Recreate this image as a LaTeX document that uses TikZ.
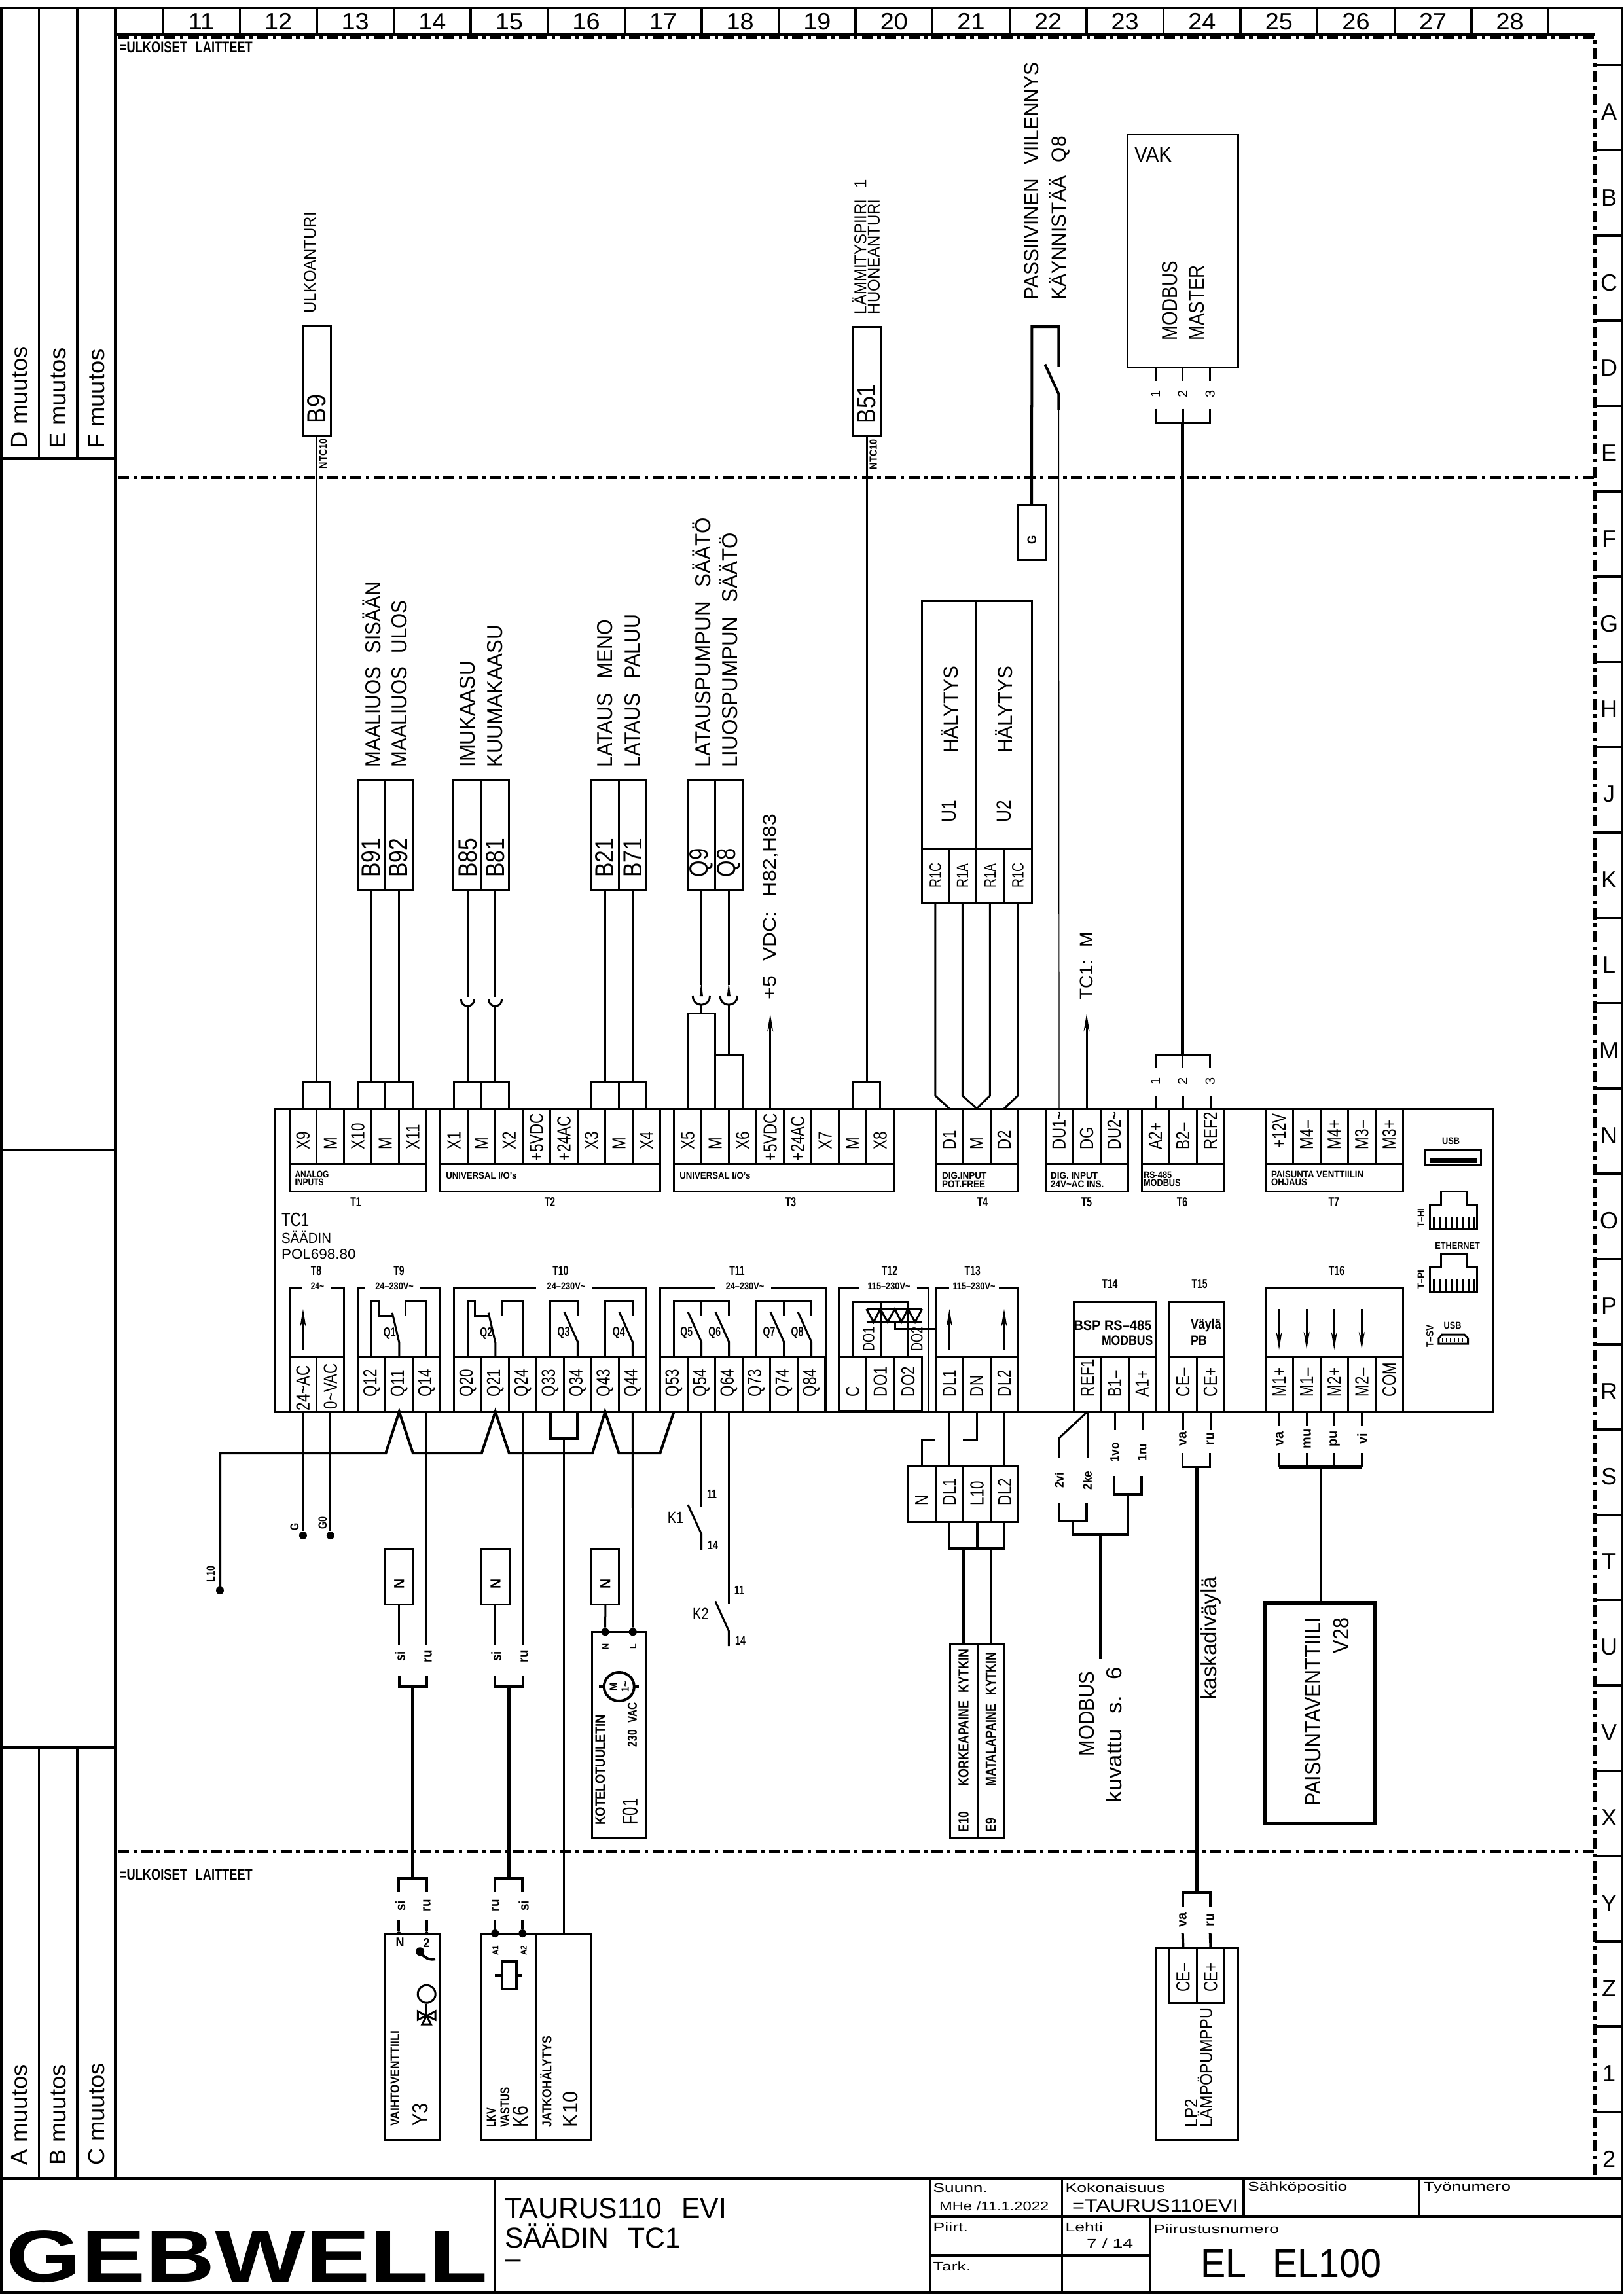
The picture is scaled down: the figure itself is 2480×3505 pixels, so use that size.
\documentclass[tikz,border=0pt]{standalone}
\usepackage{fontspec}
\usepackage{graphicx}
\setmainfont{Liberation Sans}
\usetikzlibrary{arrows.meta}
\newcounter{txc}
\newcommand\W{\hspace{.7em}}
\tikzset{
 lab/.style={inner sep=0,outer sep=0,text=black},
 ln/.style={line width=0.03cm},
 lnb/.style={line width=0.04cm},
 lnt/.style={line width=0.052cm},
 hair/.style={line width=0.012cm},
 frm/.style={line width=0.035cm},
 cell/.style={draw,line width=0.03cm,inner sep=0,outer sep=0,rectangle},
 cellb/.style={cell,line width=0.052cm},
 dotn/.style={circle,fill=black,inner sep=0,minimum size=0.12cm},
 dotm/.style={circle,fill=black,inner sep=0,minimum size=0.06cm},
 ddash/.style={line width=0.045cm,dash pattern=on 0.17cm off 0.065cm on 0.055cm off 0.065cm},
 arr/.style={ln,-{Stealth[length=0.27cm,width=0.09cm]}},
}
% rotated text: start at (x,y), reading upwards
\newcommand\tV[5]{\stepcounter{txc}\pgfmathsetmacro\fs{#3*0.2845}\node[lab,anchor=west,rotate=90,name=tx\arabic{txc}] at (#1,#2) {\fontsize{\fs pt}{\fs pt}\selectfont\scalebox{#4}[1]{#5}};}
% horizontal text: start at (x,y)
\newcommand\tH[5]{\stepcounter{txc}\pgfmathsetmacro\fs{#3*0.2845}\node[lab,anchor=west,name=tx\arabic{txc}] at (#1,#2) {\fontsize{\fs pt}{\fs pt}\selectfont\scalebox{#4}[1]{#5}};}
% centred horizontal
\newcommand\tC[5]{\stepcounter{txc}\pgfmathsetmacro\fs{#3*0.2845}\node[lab,anchor=center,name=tx\arabic{txc}] at (#1,#2) {\fontsize{\fs pt}{\fs pt}\selectfont\scalebox{#4}[1]{#5}};}
% centred rotated
\newcommand\tR[5]{\stepcounter{txc}\pgfmathsetmacro\fs{#3*0.2845}\node[lab,anchor=center,rotate=90,name=tx\arabic{txc}] at (#1,#2) {\fontsize{\fs pt}{\fs pt}\selectfont\scalebox{#4}[1]{#5}};}
\newcommand\rbox[6][]{\pgfmathsetmacro\cx{(#3+#5)/2}\pgfmathsetmacro\cy{(#4+#6)/2}\pgfmathsetmacro\ww{#5-#3}\pgfmathsetmacro\hh{#6-#4}\node[cell,#1,minimum width=\ww*0.01cm,minimum height=\hh*0.01cm] (#2) at (\cx,\cy) {};}
% name, x0, pitch, ytop, ybot, text start y, labels
\newcommand\strip[7]{\foreach \lab/\dy [count=\i] in {#7}{%
  \pgfmathsetmacro\cxx{#2+(\i-0.5)*#3}\pgfmathsetmacro\cyy{(#4+#5)/2}\pgfmathsetmacro\wwx{#3}\pgfmathsetmacro\hhx{#5-#4}\pgfmathsetmacro\syy{#6+\dy}%
  \node[cell,minimum width=\wwx*0.01cm,minimum height=\hhx*0.01cm] (#1-\i) at (\cxx,\cyy) {};%
  \tV{\cxx}{\syy}{29}{.77}{\lab}}}
\newcommand\cupsym[3]{\pgfmathsetmacro\xa{#1-#3}\pgfmathsetmacro\xb{#1+#3}\pgfmathsetmacro\yb{#2+1.35*#3}\draw[ln] (\xa,#2) .. controls (\xa,\yb) and (\xb,\yb) .. (\xb,#2);}
\newcommand\wdg[2]{\pgfmathsetmacro\xa{#1-2.6}\pgfmathsetmacro\xb{#1+2.6}\pgfmathsetmacro\ya{#2-22}\fill (\xa,#2)--(#1,\ya)--(\xb,#2)--cycle;}
% rj45: y top
\newcommand\rj[1]{\pgfmathsetmacro\ya{#1+21}\pgfmathsetmacro\yb{#1+58}\pgfmathsetmacro\yc{#1+39}\draw[ln] (2184.4,\yb) -- (2184.4,\ya) -- (2201,\ya) -- (2201,#1) -- (2241.3,#1) -- (2241.3,\ya) -- (2256.7,\ya) -- (2256.7,\yb) -- cycle;\foreach \tx in {2190,2199,2208,2217,2226,2235,2244,2252}{\draw[ln] (\tx,\yc) -- (\tx,\yb);}}
\begin{document}
\begin{tikzpicture}[x=0.01cm,y=-0.01cm]
\useasboundingbox (0,0) rectangle (2480,3505);
\fill[white] (0,0) rectangle (2480,3505);
%% ---------- frame
\draw[frm] (2,12) rectangle (2478,3503);
\draw[lnb] (176,12) -- (176,3328);
\draw[frm] (59.3,12) -- (59.3,701);
\draw[frm] (117.9,12) -- (117.9,701);
\draw[frm] (59.3,2670) -- (59.3,3328);
\draw[frm] (117.9,2670) -- (117.9,3328);
\draw[frm] (2,701) -- (176,701);
\draw[frm] (2,1757) -- (176,1757);
\draw[frm] (2,2670) -- (176,2670);
\draw[line width=0.05cm] (2,3328) -- (2478,3328);
\draw[frm] (176,53) -- (2436,53);
\foreach \k in {0,...,18}{\pgfmathsetmacro\xx{248.7+\k*117.6}\draw[frm] (\xx,12) -- (\xx,53);}
\foreach \n [count=\k from 0] in {11,12,13,14,15,16,17,18,19,20,21,22,23,24,25,26,27,28}{\pgfmathsetmacro\xx{248.7+(\k+.5)*117.6}\tC{\xx}{33}{36}{1.05}{\n}}
\foreach \n [count=\k from 0] in {A,B,C,D,E,F,G,H,J,K,L,M,N,O,P,R,S,T,U,V,X,Y,Z,1,2}{\pgfmathsetmacro\yy{99.3+\k*130.3}\pgfmathsetmacro\yt{\yy+72}\draw[frm] (2436,\yy) -- (2478,\yy);\tC{2458}{\yt}{36}{1}{\n}}
\draw[ddash] (180,56.7) -- (2436.7,56.7) -- (2436.7,3328);
\draw[ddash] (180,729.7) -- (2436.7,729.7);
\draw[ddash] (180,2829) -- (2436.7,2829);
\tH{183}{72}{24}{.76}{\bfseries =ULKOISET\W LAITTEET}
\tH{183}{2864}{24}{.76}{\bfseries =ULKOISET\W LAITTEET}
\tV{30}{685}{35}{1.04}{D muutos}
\tV{88.8}{685}{35}{1.04}{E muutos}
\tV{147.3}{685}{35}{1.04}{F muutos}
\tV{30}{3308}{35}{1.04}{A muutos}
\tV{88.8}{3308}{35}{1.04}{B muutos}
\tV{147.3}{3308}{35}{1.04}{C muutos}
%% ---------- title block
\draw[frm] (756,3328) -- (756,3503);
\draw[frm] (1420.6,3328) -- (1420.6,3503);
\draw[frm] (1622.4,3328) -- (1622.4,3503);
\draw[frm] (1757,3387) -- (1757,3503);
\draw[frm] (1900,3328) -- (1900,3387);
\draw[frm] (2168.7,3328) -- (2168.7,3387);
\draw[frm] (1420.6,3387) -- (2478,3387);
\draw[frm] (1420.6,3446) -- (1757,3446);
\tH{10}{3448}{113}{1.3}{\bfseries GEBWELL}
\tH{771}{3374}{44}{.97}{TAURUS110\W EVI}
\tH{771}{3416}{44}{.97}{SÄÄDIN\W TC1}
\tH{771}{3459}{44}{1}{–}
\tH{1425.7}{3343}{19}{1.38}{Suunn.}
\tH{1435}{3371}{19}{1.25}{MHe /11.1.2022}
\tH{1627.5}{3343}{19}{1.4}{Kokonaisuus}
\tH{1638}{3370}{27}{1.2}{=TAURUS110EVI}
\tH{1906}{3343}{19}{1.4}{Sähköpositio}
\tH{2175}{3343}{19}{1.4}{Työnumero}
\tH{1425.7}{3403}{19}{1.4}{Piirt.}
\tH{1627.5}{3403}{19}{1.4}{Lehti}
\tH{1660}{3428}{19}{1.5}{7 / 14}
\tH{1762}{3406}{19}{1.4}{Piirustusnumero}
\tH{1834}{3458}{61}{.94}{EL\W EL100}
\tH{1425.7}{3463}{19}{1.4}{Tark.}
%% ---------- TC1 controller
\rbox{tc}{420.7}{1694}{2280}{2157}
\strip{t1}{442}{41.9}{1694}{1778.5}{1756}{X9/0,M/0,X10/0,M/0,X11/0}
\strip{t2}{672.7}{41.98}{1694}{1778.5}{1756}{X1/0,M/0,X2/0,+5VDC/18,+24AC/18,X3/0,M/0,X4/0}
\strip{t3}{1029.7}{42}{1694}{1778.5}{1756}{X5/0,M/0,X6/0,+5VDC/18,+24AC/18,X7/0,M/0,X8/0}
\strip{t4}{1429.5}{41.8}{1694}{1778.5}{1756}{D1/0,M/0,D2/0}
\strip{t5}{1597}{42}{1694}{1778.5}{1756}{DU1\textasciitilde/0,DG/0,DU2\textasciitilde/0}
\strip{t6}{1744}{42}{1694}{1778.5}{1756}{A2+/0,B2–/0,REF2/0}
\strip{t7}{1933}{42.1}{1694}{1778.5}{1754}{+12V/0,M4–/2,M4+/2,M3–/2,M3+/2}
\rbox{l1}{442}{1778.5}{651.4}{1820.4}
\rbox{l2}{672.7}{1778.5}{1008.5}{1820.4}
\rbox{l3}{1029.7}{1778.5}{1365.9}{1820.4}
\rbox{l4}{1429.5}{1778.5}{1554.8}{1820.4}
\rbox{l5}{1597}{1778.5}{1723}{1820.4}
\rbox{l6}{1744}{1778.5}{1870}{1820.4}
\rbox{l7}{1933}{1778.5}{2143.5}{1820.4}
\tH{450.5}{1794.3}{15}{.8}{\bfseries ANALOG}
\tH{450.5}{1806.7}{15}{.8}{\bfseries INPUTS}
\tH{681.3}{1796}{15}{.88}{\bfseries UNIVERSAL I/O's}
\tH{1038.4}{1796}{15}{.88}{\bfseries UNIVERSAL I/O's}
\tH{1439}{1796}{15}{.9}{\bfseries DIG.INPUT}
\tH{1439}{1809}{15}{.9}{\bfseries POT.FREE}
\tH{1605}{1796}{15}{.9}{\bfseries DIG. INPUT}
\tH{1605}{1809.6}{15}{.9}{\bfseries 24V\textasciitilde AC INS.}
\tH{1747}{1795}{15}{.85}{\bfseries RS-485}
\tH{1747}{1807.5}{15}{.85}{\bfseries MODBUS}
\tH{1942}{1794}{15}{.88}{\bfseries PAISUNTA VENTTIILIN}
\tH{1942}{1806.7}{15}{.88}{\bfseries OHJAUS}
\tC{543.5}{1836.6}{20}{.7}{\bfseries T1}
\tC{840}{1836.6}{20}{.7}{\bfseries T2}
\tC{1208}{1836.6}{20}{.7}{\bfseries T3}
\tC{1501}{1836.6}{20}{.7}{\bfseries T4}
\tC{1660}{1836.6}{20}{.7}{\bfseries T5}
\tC{1806}{1836.6}{20}{.7}{\bfseries T6}
\tC{2037.7}{1836.6}{20}{.7}{\bfseries T7}
\tH{430}{1863.5}{29}{.77}{TC1}
\tH{430}{1890.5}{22}{.93}{SÄÄDIN}
\tH{430}{1916}{21}{1.07}{POL698.80}
\tC{483}{1941.5}{20}{.7}{\bfseries T8}
\tC{609.5}{1941.5}{20}{.7}{\bfseries T9}
\tC{856.4}{1941.5}{20}{.7}{\bfseries T10}
\tC{1126}{1941.5}{20}{.7}{\bfseries T11}
\tC{1359}{1941.5}{20}{.7}{\bfseries T12}
\tC{1485.8}{1941.5}{20}{.7}{\bfseries T13}
\tC{1695.4}{1961.8}{20}{.7}{\bfseries T14}
\tC{1832.7}{1961.8}{20}{.7}{\bfseries T15}
\tC{2042}{1941.5}{20}{.7}{\bfseries T16}
\tC{485}{1965}{15}{.8}{\bfseries 24\textasciitilde}
\tC{602.6}{1965}{15}{.85}{\bfseries 24–230V\textasciitilde}
\tC{865}{1965}{15}{.85}{\bfseries 24–230V\textasciitilde}
\tC{1138}{1965}{15}{.85}{\bfseries 24–230V\textasciitilde}
\tC{1358}{1965}{15}{.85}{\bfseries 115–230V\textasciitilde}
\tC{1488}{1965}{15}{.85}{\bfseries 115–230V\textasciitilde}
%% bottom strips
\strip{t8}{442}{41.9}{2073}{2157}{2134}{24\textasciitilde AC/21,0\textasciitilde VAC/19}
\strip{t9}{547}{41.9}{2073}{2157}{2134}{Q12/0,Q11/0,Q14/0}
\strip{t10}{693.9}{41.9}{2073}{2157}{2134}{Q20/0,Q21/0,Q24/0,Q33/0,Q34/0,Q43/0,Q44/0}
\strip{t11}{1008.5}{42}{2073}{2157}{2134}{Q53/0,Q54/0,Q64/0,Q73/0,Q74/0,Q84/0}
\strip{t12}{1281.5}{42.2}{2073}{2157}{2134}{C/0,DO1/0,DO2/0}
\strip{t13}{1429.5}{41.8}{2073}{2157}{2134}{DL1/0,DN/0,DL2/0}
\strip{t14}{1640}{42}{2073}{2157}{2134}{REF1/0,B1–/0,A1+/0}
\strip{t15}{1786}{42}{2073}{2157}{2134}{CE–/0,CE+/0}
\strip{t16}{1933}{42.1}{2073}{2157}{2134}{M1+/0,M1–/0,M2+/0,M2–/0,COM/0}
%% block outlines with voltage gaps
\draw[ln] (442,2073) -- (442,1968) -- (462,1968) (506,1968) -- (525.7,1968) -- (525.7,2073);
\draw[ln] (547,2073) -- (547,1968) -- (556.7,1968) (641,1968) -- (672.7,1968) -- (672.7,2157);
\draw[ln] (693.9,2073) -- (693.9,1968) -- (819,1968) (904,1968) -- (987.2,1968) -- (987.2,2157);
\draw[ln] (1008.5,2073) -- (1008.5,1968) -- (1093,1968) (1178,1968) -- (1261,1968) -- (1261,2157);
\draw[ln] (1281.5,2073) -- (1281.5,1968) -- (1311.6,1968) (1400.7,1968) -- (1418.8,1968) -- (1418.8,2157);
\draw[ln] (1429.5,2073) -- (1429.5,1968) -- (1449.6,1968) (1526,1968) -- (1554.8,1968) -- (1554.8,2157);
\draw[ln] (1640,2073) -- (1640,1989) -- (1766,1989) -- (1766,2157);
\draw[ln] (1786,2073) -- (1786,1989) -- (1870,1989) -- (1870,2073);
\draw[ln] (1933,2073) -- (1933,1968) -- (2143.5,1968) -- (2143.5,2073);
\draw[lnb] (1281.5,2157) -- (1408.7,2157);
%% T8 & T13 & T16 arrows
\draw[arr] (t8-1.north) ++(0,-11) -- ++(0,-62);
\draw[arr] (t13-1.north) ++(0,-11) -- ++(0,-62);
\draw[arr] (t13-3.north) ++(0,-11) -- ++(0,-62);
\foreach \n in {1,2,3,4}{\draw[arr] (t16-\n.north) ++(0,-73) -- ++(0,62);}
%% T9 contact
\draw[ln] (t9-1.north) -- (t9-1.north |- 0,1988.7) -- (578,1988.7) -- (578,2010) -- (601,2010);
\draw[ln] (599.2,2005.7) -- (t9-2.north |- 0,2051.3) -- (t9-2.north);
\draw[ln] (t9-3.north) -- (t9-3.north |- 0,1988.7) -- (619.9,1988.7) -- (619.9,2010);
\tC{595.2}{2037}{20}{.7}{\bfseries Q1}
%% T10 contacts
\draw[ln] (t10-1.north) -- (t10-1.north |- 0,1988.7) -- (725,1988.7) -- (725,2010) -- (748,2010);
\draw[ln] (746.2,2005.7) -- (t10-2.north |- 0,2051.3) -- (t10-2.north);
\draw[ln] (t10-3.north) -- (t10-3.north |- 0,1988.7) -- (766.9,1988.7) -- (766.9,2010);
\tC{742.7}{2037}{20}{.7}{\bfseries Q2}
\draw[ln] (t10-4.north) -- (t10-4.north |- 0,1988.7) -- (t10-5.north |- 0,1988.7) -- (t10-5.north |- 0,2010);
\draw[ln] (862,2004.5) -- (t10-5.north |- 0,2050) -- (t10-5.north);
\tC{861}{2036.5}{20}{.7}{\bfseries Q3}
\draw[ln] (t10-6.north) -- (t10-6.north |- 0,1988.7) -- (t10-7.north |- 0,1988.7) -- (t10-7.north |- 0,2010);
\draw[ln] (946,2004.5) -- (t10-7.north |- 0,2050) -- (t10-7.north);
\tC{945.3}{2036.5}{20}{.7}{\bfseries Q4}
%% T11 contacts
\draw[ln] (t11-1.north) -- (t11-1.north |- 0,1988.7) -- (t11-3.north |- 0,1988.7) -- (t11-3.north |- 0,2010);
\draw[ln] (t11-2.north |- 0,1988.7) -- (t11-2.north |- 0,2010);
\draw[ln] (1051,2004.5) -- (t11-2.north |- 0,2050) -- (t11-2.north);
\draw[ln] (1093,2004.5) -- (t11-3.north |- 0,2050) -- (t11-3.north);
\tC{1048.7}{2036.5}{20}{.7}{\bfseries Q5}
\tC{1091.7}{2036.5}{20}{.7}{\bfseries Q6}
\draw[ln] (t11-4.north) -- (t11-4.north |- 0,1988.7) -- (t11-6.north |- 0,1988.7) -- (t11-6.north |- 0,2010);
\draw[ln] (t11-5.north |- 0,1988.7) -- (t11-5.north |- 0,2010);
\draw[ln] (1177,2004.5) -- (t11-5.north |- 0,2050) -- (t11-5.north);
\draw[ln] (1219,2004.5) -- (t11-6.north |- 0,2050) -- (t11-6.north);
\tC{1175}{2036.5}{20}{.7}{\bfseries Q7}
\tC{1218}{2036.5}{20}{.7}{\bfseries Q8}
%% T12 triacs
\rbox{t12in}{1302}{1989}{1387}{2073}
\draw[ln] (1345,1989) -- (1345,2073);
\draw[ln] (1323.7,2000) -- (1408.7,2000);
\draw[ln] (1323.7,2020) -- (1408.7,2020);
\draw[ln] (1323.7,2000) -- (1334.5,2020) -- (1345,2000) -- (1356,2020) -- (1367,2000) -- (1377,2020) -- (1387,2000) -- (1398,2020) -- (1408.7,2000);
\draw[ln] (1367,2020) -- (1367,2030) -- (1429.5,2030);
\tV{1327}{2064.6}{25}{.72}{DO1}
\tV{1400.7}{2064.6}{25}{.72}{DO2}
%% T14 T15 text
\tH{1640.5}{2025}{21}{.95}{\bfseries BSP RS–485}
\tH{1683}{2048}{21}{.84}{\bfseries MODBUS}
\tH{1819}{2025}{21}{.85}{\bfseries Väylä}
\tH{1819}{2048}{21}{.85}{\bfseries PB}
%% connectors right
\tC{2216.5}{1743.3}{15}{.85}{\bfseries USB}
\draw[ln] (2177.6,1757.8) rectangle (2262.7,1779.8);
\fill (2184,1770) rectangle (2256,1776.5);
\rj{1820.8}
\rj{1915.3}
\tR{2171}{1861}{15}{.9}{\bfseries T–HI}
\tR{2171}{1955}{15}{.9}{\bfseries T–PI}
\tC{2226.6}{1903.7}{15}{.85}{\bfseries ETHERNET}
\tR{2184.4}{2041.8}{15}{.9}{\bfseries T–SV}
\tC{2219}{2025}{15}{.85}{\bfseries USB}
\draw[ln] (2197.8,2053) -- (2197.8,2045) -- (2203,2039) -- (2237,2039) -- (2242.6,2045) -- (2242.6,2053) -- cycle;
\foreach \tx in {2204,2210,2216,2222,2228,2234}{\draw[line width=0.02cm] (\tx,2044) -- (\tx,2050);}
%% ---------- upper field
\coordinate (busA) at (0,1652);
% B9
\rbox{B9}{462}{498.6}{505}{666}
\tV{483.3}{647}{40}{.9}{B9}
\tV{473.4}{478.5}{26}{.92}{ULKOANTURI}
\tV{493.7}{716}{16}{.9}{\bfseries NTC10}
\draw[ln] (t1-1.north) -- (t1-1.north |- busA) -- (t1-2.north |- busA) -- (t1-2.north);
\draw[ln] (B9.south) -- (B9.south |- busA);
% B51
\rbox{B51}{1302.7}{499.3}{1345.5}{666.7}
\tV{1323.7}{647.6}{40}{.85}{B51}
\tV{1312.5}{480}{26}{.92}{LÄMMITYSPIIRI\W 1}
\tV{1334.8}{480}{26}{.92}{HUONEANTURI}
\tV{1334}{717}{16}{.9}{\bfseries NTC10}
\draw[ln] (t3-7.north) -- (t3-7.north |- busA) -- (t3-8.north |- busA) -- (t3-8.north);
\draw[ln] (B51.south) -- (B51.south |- busA);
% B91 B92
\rbox{B91}{546}{1191.5}{588.3}{1359.5}
\rbox{B92}{588.3}{1191.5}{630.6}{1359.5}
\tV{566.8}{1340.5}{40}{.84}{B91}
\tV{609.2}{1340.5}{40}{.84}{B92}
\tV{567.9}{1172.5}{33}{.9}{MAALIUOS\W SISÄÄN}
\tV{609.7}{1172.5}{33}{.9}{MAALIUOS\W ULOS}
\draw[ln] (t1-3.north) -- (t1-3.north |- busA) -- (t1-5.north |- busA) -- (t1-5.north);
\draw[ln] (t1-4.north) -- (t1-4.north |- busA);
\draw[ln] (B91.south) -- (B91.south |- busA);
\draw[ln] (B92.south) -- (B92.south |- busA);
% B85 B81
\rbox{B85}{692.9}{1191.5}{735.7}{1359.5}
\rbox{B81}{735.7}{1191.5}{777.6}{1359.5}
\tV{714.3}{1340.5}{40}{.84}{B85}
\tV{756.6}{1340.5}{40}{.84}{B81}
\tV{714.3}{1172.5}{33}{.94}{IMUKAASU}
\tV{756.6}{1172.5}{33}{.94}{KUUMAKAASU}
\draw[ln] (t2-1.north) -- (t2-1.north |- busA) -- (t2-3.north |- busA) -- (t2-3.north);
\draw[ln] (t2-2.north) -- (t2-2.north |- busA);
\draw[ln] (B85.south) -- (B85.south |- 0,1523);
\draw[ln] (B81.south) -- (B81.south |- 0,1523);
\cupsym{714.3}{1527}{10}
\cupsym{756.6}{1527}{10}
\draw[ln] (714.3,1537) -- (714.3 ,1652);
\draw[ln] (756.6,1537) -- (756.6,1652);
% B21 B71
\rbox{B21}{903}{1191.5}{945.4}{1359.5}
\rbox{B71}{945.4}{1191.5}{987.8}{1359.5}
\tV{924}{1340.5}{40}{.84}{B21}
\tV{966.3}{1340.5}{40}{.84}{B71}
\tV{924.5}{1172.5}{33}{.92}{LATAUS\W MENO}
\tV{966.3}{1172.5}{33}{.92}{LATAUS\W PALUU}
\draw[ln] (t2-6.north) -- (t2-6.north |- busA) -- (t2-8.north |- busA) -- (t2-8.north);
\draw[ln] (t2-7.north) -- (t2-7.north |- busA);
\draw[ln] (B21.south) -- (B21.south |- busA);
\draw[ln] (B71.south) -- (B71.south |- busA);
% Q9 Q8
\rbox{Q9b}{1050.5}{1191.5}{1092.3}{1359.5}
\rbox{Q8b}{1092.3}{1191.5}{1134.7}{1359.5}
\tV{1071.4}{1340.5}{40}{.82}{Q9}
\tV{1113.3}{1340.5}{40}{.82}{Q8}
\tV{1071.4}{1172.5}{33}{.95}{LATAUSPUMPUN\W SÄÄTÖ}
\tV{1113.3}{1172.5}{33}{.95}{LIUOSPUMPUN\W SÄÄTÖ}
\draw[ln] (Q9b.south) -- (Q9b.south |- 0,1505);
\draw[ln] (Q8b.south) -- (Q8b.south |- 0,1505);
\wdg{1071.4}{1522}
\wdg{1113.3}{1522}
\cupsym{1071.4}{1522}{13}
\cupsym{1113.3}{1522}{13}
\draw[ln] (t3-1.north) -- (t3-1.north |- 0,1548) -- (t3-2.north |- 0,1548) -- (t3-2.north);
\draw[ln] (t3-2.north |- 0,1611.5) -- (t3-3.north |- 0,1611.5) -- (t3-3.north);
\draw[ln] (1071.4,1535) -- (1071.4,1548);
\draw[ln] (1113.3,1535) -- (1113.3,1611.5);
% +5VDC
\draw[arr] (t3-4.north) -- (t3-4.north |- 0,1549);
\tV{1177.5}{1527.5}{28}{1.14}{+5\W VDC:\W H82,H83}
% TC1:M
\draw[arr] (t5-2.north) -- (t5-2.north |- 0,1549);
\tV{1659.7}{1527.5}{28}{1}{TC1:\W M}
% U1 U2
\rbox{U1}{1408}{918.8}{1491.3}{1297}
\rbox{U2}{1491.3}{918.8}{1576.3}{1297}
\rbox{ra}{1408}{1297}{1449.6}{1379.5}
\rbox{rb}{1449.6}{1297}{1491.3}{1379.5}
\rbox{rc}{1491.3}{1297}{1533.4}{1379.5}
\rbox{rd}{1533.4}{1297}{1576.3}{1379.5}
\tV{1429}{1356.8}{25}{.77}{R1C}
\tV{1470.5}{1356.8}{25}{.77}{R1A}
\tV{1512.5}{1356.8}{25}{.77}{R1A}
\tV{1555}{1356.8}{25}{.77}{R1C}
\tV{1450.4}{1256.5}{31}{.85}{U1}
\tV{1533.8}{1256.5}{31}{.85}{U2}
\tV{1450.4}{1150.8}{31}{.96}{HÄLYTYS}
\tV{1533.8}{1150.8}{31}{.96}{HÄLYTYS}
\draw[ln] (ra.south) -- (ra.south |- 0,1674) -- (t4-1.north);
\draw[ln] (rb.south) -- (rb.south |- 0,1674) -- (t4-2.north);
\draw[ln] (rc.south) -- (rc.south |- 0,1674) -- (t4-2.north);
\draw[ln] (rd.south) -- (rd.south |- 0,1674) -- (t4-3.north);
% G + switch
\rbox{Gbox}{1554.5}{771}{1597.8}{855}
\tR{1576.3}{824.6}{19}{.9}{\bfseries G}
\coordinate (swT) at (1617.4,499);
\coordinate (swL) at (1576.3,499);
\draw[lnb] (Gbox.north) -- (swL) -- (swT) -- (1617.4,560.5);
\draw[lnb] (1596.4,556.7) -- (1617.4,602) -- (1617.4,626);
\draw[hair] (1617.4,626) -- (t5-1.north);
\tV{1575.9}{458.6}{31}{.965}{PASSIIVINEN\W VIILENNYS}
\tV{1618.3}{458.6}{31}{.965}{KÄYNNISTÄÄ\W Q8}
% VAK
\rbox{VAK}{1722.3}{205}{1891}{561.5}
\tH{1733}{236}{33}{.9}{VAK}
\tV{1787}{520.8}{33}{.84}{MODBUS}
\tV{1828.6}{520.8}{33}{.84}{MASTER}
\draw[ln] (1765.2,561.5) -- (1765.2,582) (1806.7,561.5) -- (1806.7,582) (1848.7,561.5) -- (1848.7,582);
\tR{1765.2}{602}{20}{1}{1}
\tR{1806.7}{602}{20}{1}{2}
\tR{1848.7}{602}{20}{1}{3}
\draw[ln] (1765.2,624.6) -- (1765.2,646) -- (1848.7,646) -- (1848.7,624.6);
\draw[lnb] (1806.7,624.6) -- (1806.7,646);
\draw[line width=0.055cm] (1806.7,646) -- (1806.7,1611.5);
\draw[ln] (1765.2,1632) -- (1765.2,1611.5) -- (1848.7,1611.5) -- (1848.7,1632) (1806.7,1611.5) -- (1806.7,1632);
\tR{1765.2}{1652}{20}{1}{1}
\tR{1806.7}{1652}{20}{1}{2}
\tR{1848.7}{1652}{20}{1}{3}
\draw[ln] (1765,1674) -- (t6-1.north);
\draw[ln] (1807,1674) -- (t6-2.north);
\draw[ln] (1849,1674) -- (t6-3.north);
%% ---------- lower field
\node[dotn] (dL10) at (336,2430) {};
\node[dotn] (dG) at (t8-1.south |- 0,2346) {};
\node[dotn] (dG0) at (t8-2.south |- 0,2346) {};
\tR{322}{2405}{18}{.8}{\bfseries L10}
\tR{450}{2333}{18}{.8}{\bfseries G}
\tR{493}{2327}{18}{.8}{\bfseries G0}
\draw[lnb] (dL10) -- (336,2220) -- (589.4,2220) -- (t9-2.south) -- (630.8,2220) -- (735.8,2220) -- (t10-2.south) -- (777.7,2220) -- (905.2,2220) -- (t10-6.south) -- (945.4,2220) -- (1008.5,2220) -- (t11-1.south);
\draw[ln] (t8-1.south) -- (dG);
\draw[ln] (t8-2.south) -- (dG0);
% N boxes
\rbox{n1}{588.7}{2366.5}{630.7}{2451.6}
\rbox{n2}{735.7}{2366.5}{778.2}{2451.6}
\rbox{n3}{903.9}{2366.5}{945.8}{2451.6}
\tR{609.7}{2420}{22}{.95}{\bfseries N}
\tR{757}{2420}{22}{.95}{\bfseries N}
\tR{924.8}{2420}{22}{.95}{\bfseries N}
\draw[ln] (n1.south) -- (n1.south |- 0,2514);
\draw[ln] (t9-3.south) -- (t9-3.south |- 0,2514);
\draw[ln] (n2.south) -- (n2.south |- 0,2514);
\draw[ln] (t10-3.south) -- (t10-3.south |- 0,2514);
\tR{611}{2530.6}{21}{.9}{\bfseries si}
\tR{654}{2530.6}{21}{.9}{\bfseries ru}
\tR{758}{2530.6}{21}{.9}{\bfseries si}
\tR{801}{2530.6}{21}{.9}{\bfseries ru}
\draw[lnb] (610,2560.5) -- (610,2577) -- (651.8,2577) -- (651.8,2560.5);
\draw[lnb] (756.4,2560.5) -- (756.4,2577) -- (798.7,2577) -- (798.7,2560.5);
\draw[lnt] (630.7,2577) -- (630.7,2870);
\draw[lnt] (777.3,2577) -- (777.3,2870);
\draw[lnb] (609.3,2890.7) -- (609.3,2870) -- (651.7,2870) -- (651.7,2890.7);
\draw[lnb] (756.3,2890.7) -- (756.3,2870) -- (798.3,2870) -- (798.3,2890.7);
\tR{611.7}{2911.7}{21}{.9}{\bfseries si}
\tR{652}{2911.7}{21}{.9}{\bfseries ru}
\tR{757}{2911.7}{21}{.9}{\bfseries ru}
\tR{800}{2911.7}{21}{.9}{\bfseries si}
% Y3
\rbox{Y3}{588.3}{2954}{672.3}{3269}
\node[dotm] (y3a) at (609.3,2954) {};
\node[dotm] (y3b) at (651.7,2954) {};
\draw[lnb] (609.3,2933) -- (y3a);
\draw[lnb] (651.7,2933) -- (y3b);
\tC{611}{2968}{20}{.9}{\bfseries N}
\tC{651.7}{2968}{20}{.9}{\bfseries 2}
\fill (641.7,2981.7) circle (0.065cm);
\draw[lnb] (641.7,2981.7) .. controls (648,2992) and (657,2995) .. (665,2993);
\node[circle,draw,line width=0.03cm,inner sep=0,minimum size=0.27cm] (y3c) at (651.7,3046.7) {};
\draw[ln] (y3c.south) -- (651.7,3080);
\draw[ln] (638.3,3073) -- (638.3,3086) -- (651.7,3080) -- cycle;
\draw[ln] (665,3073) -- (665,3086) -- (651.7,3080) -- cycle;
\draw[ln] (651.7,3080) -- (645,3093) -- (658.3,3093) -- cycle;
\tV{603.3}{3248.3}{19}{.91}{\bfseries VAIHTOVENTTIILI}
\tV{641.7}{3248.3}{33}{.87}{Y3}
% K6 K10
\rbox{K6}{735.3}{2954}{819.3}{3269}
\rbox{K10}{819.3}{2954}{903.7}{3269}
\node[dotn] (k6a) at (756.3,2954) {};
\node[dotn] (k6b) at (798.3,2954) {};
\draw[lnb] (756.3,2933) -- (k6a);
\draw[lnb] (798.3,2933) -- (k6b);
\tR{757}{2980}{13}{.9}{\bfseries A1}
\tR{800}{2980}{13}{.9}{\bfseries A2}
\draw[lnb] (766.7,2996.7) rectangle (788.7,3038.7);
\draw[lnb] (756.3,3018.3) -- (766.7,3018.3) (788.7,3018.3) -- (798.3,3018.3);
\tV{750.3}{3250}{19.5}{.75}{\bfseries LKV}
\tV{771.3}{3250}{19.5}{.78}{\bfseries VASTUS}
\tV{795}{3250}{33}{.8}{K6}
\tV{834}{3250}{20}{.88}{\bfseries JATKOHÄLYTYS}
\tV{871.7}{3250}{32}{.95}{K10}
\draw[lnb] (t10-4.south) -- (t10-4.south |- 0,2198) -- (t10-5.south |- 0,2198) -- (t10-5.south);
\draw[ln] (K10.north) -- (K10.north |- 0,2198);
% F01
\rbox{F01}{904}{2493.3}{987}{2808}
\node[dotn] (fa) at (924.6,2493.3) {};
\node[dotn] (fb) at (966.8,2493.3) {};
\draw[ln] (n3.south) -- (fa);
\draw[ln] (t10-7.south) -- (fb);
\tR{925}{2515.7}{14}{.9}{\bfseries N}
\tR{967}{2515.7}{14}{.9}{\bfseries L}
\draw[lnb] (945.8,2577) ellipse [x radius=0.23cm,y radius=0.22cm];
\draw[lnb] (915,2577) -- (923,2577) (969,2577) -- (976,2577);
\tR{937}{2577}{16}{.9}{\bfseries M}
\tR{955}{2577}{16}{.9}{\bfseries 1\textasciitilde}
\tV{917}{2788.5}{21}{.88}{\bfseries KOTELOTUULETIN}
\tV{962.6}{2788.5}{33}{.72}{F01}
\tV{966}{2669}{20}{.77}{\bfseries 230\W VAC}
% K1 K2
\draw[ln] (t11-2.south) -- (t11-2.south |- 0,2302.6);
\draw[ln] (1050.9,2299) -- (1071.5,2343.6) -- (1071.5,2368.5);
\tC{1087.6}{2282.7}{19}{.75}{\bfseries 11}
\tC{1089}{2360.6}{19}{.75}{\bfseries 14}
\tC{1032}{2318.8}{25}{.8}{K1}
\draw[ln] (t11-3.south) -- (t11-3.south |- 0,2449.8);
\draw[ln] (1092.8,2446.5) -- (1113.4,2492) -- (1113.4,2515);
\tC{1129.5}{2430}{19}{.75}{\bfseries 11}
\tC{1131}{2506.6}{19}{.75}{\bfseries 14}
\tC{1070.4}{2466}{25}{.8}{K2}
% DL block
\strip{dl}{1387}{42.2}{2240}{2325.4}{2300}{N/0,DL1/0,L10/0,DL2/0}
\draw[ln] (t13-1.south) -- (t13-1.south |- dl-2.north);
\draw[ln] (t13-2.south) -- (t13-2.south |- 0,2199) -- (1471,2199);
\draw[ln] (1428.6,2199) -- (dl-1.north |- 0,2199) -- (dl-1.north);
\draw[ln] (t13-3.south) -- (t13-3.south |- dl-4.north);
\draw[lnb] (1450.4,2325.4) -- (1450.4,2366) -- (1534.2,2366) -- (1534.2,2325.4);
\draw[lnb] (1492.6,2325.4) -- (1492.6,2366);
\rbox{E10}{1451}{2512.8}{1493}{2808}
\rbox{E9}{1493}{2512.8}{1534.8}{2808}
\draw[lnb] (E10.north) -- (E10.north |- 0,2366);
\draw[lnb] (E9.north) -- (E9.north |- 0,2366);
\tV{1472}{2799}{22}{.8}{\bfseries E10}
\tV{1513.5}{2799}{22}{.8}{\bfseries E9}
\tV{1472}{2729}{22}{.81}{\bfseries KORKEAPAINE\W KYTKIN}
\tV{1513.5}{2729}{22}{.81}{\bfseries MATALAPAINE\W KYTKIN}
% MODBUS wiring
\draw[ln] (t14-1.south) -- (1617.5,2197.7) -- (1617.5,2227.5);
\draw[ln] (t14-1.south) -- (t14-1.south |- 0,2227.5);
\draw[ln] (t14-2.south) -- (t14-2.south |- 0,2185);
\draw[ln] (t14-3.south) -- (t14-3.south |- 0,2185);
\tR{1618}{2262}{19}{.9}{\bfseries 2vi}
\tR{1661}{2262}{19}{.9}{\bfseries 2ke}
\tR{1703}{2219}{19}{.9}{\bfseries 1vo}
\tR{1745}{2219}{19}{.9}{\bfseries 1ru}
\draw[lnb] (1617.5,2296) -- (1617.5,2324) -- (1660,2324) -- (1660,2296);
\draw[lnb] (1702.4,2254.5) -- (1702.4,2282.7) -- (1743.7,2282.7) -- (1743.7,2254.5);
\draw[lnb] (1638.7,2324) -- (1638.7,2345) -- (1723,2345) -- (1723,2282.7);
\draw[lnb] (1681,2345) -- (1681,2534.7);
\tV{1660}{2683}{33}{.89}{MODBUS}
\tV{1702}{2754}{33}{1.05}{kuvattu\W s.\W 6}
% cascade
\draw[ln] (t15-1.south) -- (t15-1.south |- 0,2185);
\draw[ln] (t15-2.south) -- (t15-2.south |- 0,2185);
\tR{1807}{2198.5}{21}{.95}{\bfseries va}
\tR{1849}{2198.5}{21}{.95}{\bfseries ru}
\draw[ln] (1806.6,2220) -- (1806.6,2241) -- (1848.8,2241) -- (1848.8,2220);
\draw[lnt] (1828,2241) -- (1828,2892);
\draw[lnb] (1806.7,2913) -- (1806.7,2892) -- (1848.7,2892) -- (1848.7,2913);
\tV{1850}{2597.8}{33}{1}{kaskadiväylä}
\tR{1807}{2933}{21}{.95}{\bfseries va}
\tR{1849}{2933}{21}{.95}{\bfseries ru}
\rbox{LP2}{1765}{2976}{1891}{3269.3}
\rbox{lpa}{1786.7}{2976}{1828.3}{3060}
\rbox{lpb}{1828.3}{2976}{1870.7}{3060}
\draw[lnb] (1806.7,2954) -- (lpa.north);
\draw[lnb] (1848.7,2954) -- (lpb.north);
\tV{1807.3}{3043.3}{29}{.77}{CE–}
\tV{1849.3}{3043.3}{29}{.77}{CE+}
\tV{1819.7}{3250}{27}{.9}{LP2}
\tV{1840.8}{3250}{26}{.9}{LÄMPÖPUMPPU}
% T16 wiring
\foreach \n in {1,2,3,4}{\draw[ln] (t16-\n.south) -- (t16-\n.south |- 0,2178.6);\draw[ln] (t16-\n.south |- 0,2220) -- (t16-\n.south |- 0,2241);}
\tR{1955}{2198.5}{21}{.95}{\bfseries va}
\tR{1997}{2198.5}{21}{.95}{\bfseries mu}
\tR{2039}{2198.5}{21}{.95}{\bfseries pu}
\tR{2081}{2198.5}{21}{.95}{\bfseries vi}
\draw[lnt] (t16-1.south |- 0,2241) -- (t16-4.south |- 0,2241);
\rbox[cellb]{V28}{1933}{2449}{2100.8}{2786.4}
\draw[lnb] (V28.north -| 2017.6,0) -- (2017.6,2241);
\tV{2006}{2759.5}{33.5}{.91}{PAISUNTAVENTTIILI}
\tV{2049}{2526}{33.5}{.91}{V28}
\end{tikzpicture}
\end{document}
